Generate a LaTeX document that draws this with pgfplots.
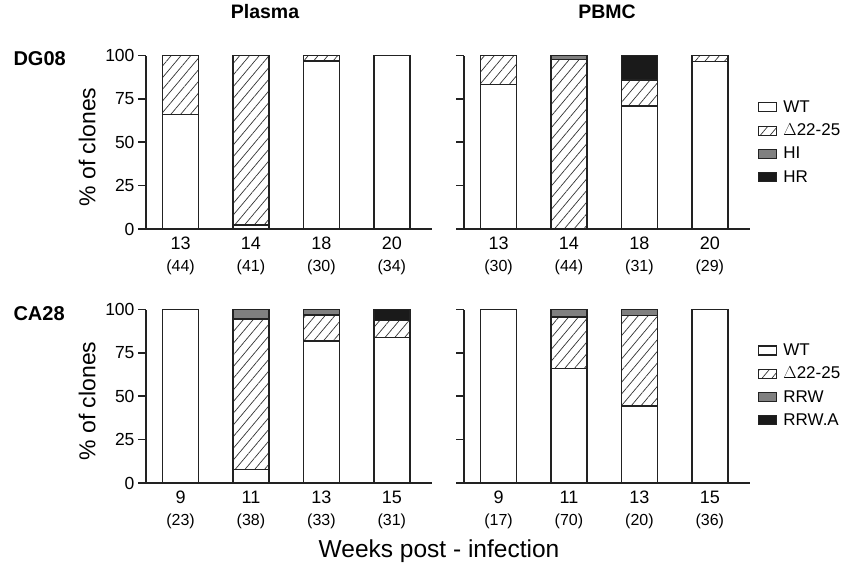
\documentclass[border=0pt]{standalone}
\usepackage{fontspec}
\setmainfont{Liberation Sans}
\usepackage{pgfplots}
\pgfplotsset{compat=1.18}
\usetikzlibrary{patterns.meta}

\definecolor{higray}{HTML}{808080}
\definecolor{hrblack}{HTML}{1A1A1A}
\definecolor{ln}{HTML}{222222}

\pgfplotsset{
  panel/.style={
    scale only axis, width=286pt, height=173.5pt,
    xmin=-0.49, xmax=3.57, ymin=0, ymax=100,
    axis x line*=bottom, axis y line*=left,
    axis line style={line width=1.6pt, ln},
    ytick={0,25,50,75,100},
    tick align=outside, major tick length=8pt,
    ytick style={line width=1.6pt, ln},
    xtick={0,1,2,3}, xtick style={draw=none},
    xticklabel style={align=center, font=\fontsize{18}{22}\selectfont, inner sep=0pt, anchor=north},
    yticklabel style={font=\fontsize{17.5}{20}\selectfont},
    /pgf/number format/assume math mode=true,
    ybar stacked, bar width=36pt,
    clip=false,
    legend style={draw=none, fill=none, inner sep=0pt, anchor=north west,
      font=\fontsize{17}{20}\selectfont, row sep=6pt, cells={anchor=west},
      /tikz/every odd column/.append style={column sep=4pt}},
  },
  sw/.style={legend image code/.code={\draw[##1, line width=1.2pt] (0pt,-4.5pt) rectangle (18pt,4.5pt);}},
  wt/.style={draw=ln, line width=1.6pt, fill=white, sw},
  del/.style={draw=ln, line width=1.6pt, pattern={Lines[angle=50,distance=7.5pt,line width=0.7pt]}, pattern color=black!80, sw},
  hi/.style={draw=ln, line width=1.6pt, fill=higray, sw},
  hr/.style={draw=ln, line width=1.6pt, fill=hrblack, sw},
  ttl/.style={title style={at={(axis description cs:#1,1.22)}, anchor=center, font=\bfseries\fontsize{19.5}{22}\selectfont}},
  yl/.style={ylabel style={at={(axis description cs:-0.206,0.472)}, anchor=center, font=\fontsize{23}{26}\selectfont}},
}
\newcommand{\sm}{\fontsize{16}{22}\selectfont}

\begin{document}
\begin{tikzpicture}
\path[use as bounding box] (0pt,0pt) rectangle (844pt,-563pt);

% DG08 Plasma
\begin{axis}[panel, at={(146pt,-229pt)}, anchor=south west,
  title={Plasma}, ttl=0.416, ylabel={\% of clones}, yl,
  xticklabels={{13\\\sm(44)},{14\\\sm(41)},{18\\\sm(30)},{20\\\sm(34)}}]
\addplot[wt] coordinates {(0,66) (1,2.4) (2,96.7) (3,100)};
\addplot[del] coordinates {(0,34) (1,97.6) (2,3.3) (3,0)};
\end{axis}

% DG08 PBMC
\begin{axis}[panel, at={(464pt,-229pt)}, anchor=south west,
  title={PBMC}, ttl=0.5, yticklabels={},
  xticklabels={{13\\\sm(30)},{14\\\sm(44)},{18\\\sm(31)},{20\\\sm(29)}},
  legend style={at={(axis description cs:1.028,0.752)}}]
\addplot[wt] coordinates {(0,83.3) (1,0) (2,71) (3,96.6)};
\addplot[del] coordinates {(0,16.7) (1,97.7) (2,15) (3,3.4)};
\addplot[hi] coordinates {(0,0) (1,2.3) (2,0) (3,0)};
\addplot[hr] coordinates {(0,0) (1,0) (2,14) (3,0)};
\legend{WT,$\Delta$22-25,HI,HR}
\end{axis}

% CA28 Plasma
\begin{axis}[panel, at={(146pt,-483pt)}, anchor=south west,
  ylabel={\% of clones}, yl,
  xticklabels={{9\\\sm(23)},{11\\\sm(38)},{13\\\sm(33)},{15\\\sm(31)}}]
\addplot[wt] coordinates {(0,100) (1,7.9) (2,81.8) (3,83.9)};
\addplot[del] coordinates {(0,0) (1,86.8) (2,15.2) (3,9.7)};
\addplot[hi] coordinates {(0,0) (1,5.3) (2,3.0) (3,0)};
\addplot[hr] coordinates {(0,0) (1,0) (2,0) (3,6.4)};
\end{axis}

% CA28 PBMC
\begin{axis}[panel, at={(464pt,-483pt)}, anchor=south west,
  yticklabels={},
  xticklabels={{9\\\sm(17)},{11\\\sm(70)},{13\\\sm(20)},{15\\\sm(36)}},
  legend style={at={(axis description cs:1.028,0.815)}}]
\addplot[wt] coordinates {(0,100) (1,66) (2,44.5) (3,100)};
\addplot[del] coordinates {(0,0) (1,29.6) (2,52) (3,0)};
\addplot[hi] coordinates {(0,0) (1,4.4) (2,3.5) (3,0)};
\addplot[hr] coordinates {(0,0) (1,0) (2,0) (3,0)};
\legend{WT,$\Delta$22-25,RRW,RRW.A}
\end{axis}

\node[anchor=base west, font=\bfseries\fontsize{20}{24}\selectfont] at (10pt,-65pt) {DG08};
\node[anchor=base west, font=\bfseries\fontsize{20}{24}\selectfont] at (10pt,-320pt) {CA28};
\node[anchor=base, font=\fontsize{24.5}{28}\selectfont] at (439pt,-557pt) {Weeks post - infection};
\end{tikzpicture}
\end{document}
